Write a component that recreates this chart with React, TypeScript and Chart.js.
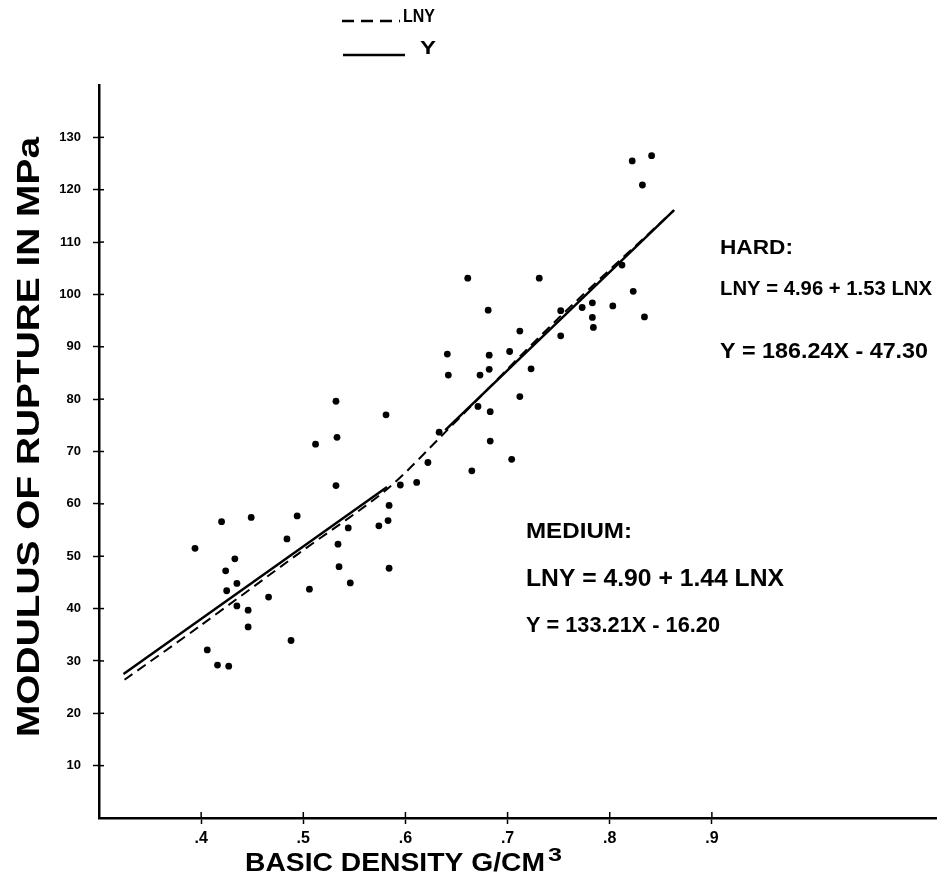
import React, { useEffect, useRef } from 'react';
import { Chart, registerables } from 'chart.js';

Chart.register(...registerables);

// ---- data ----
const xTickValues = [0.4, 0.5, 0.6, 0.7, 0.8, 0.9];
const xTickLabels = ['.4', '.5', '.6', '.7', '.8', '.9'];
const yTickValues = [10, 20, 30, 40, 50, 60, 70, 80, 90, 100, 110, 120, 130];

const density = [
  0.420, 0.449, 0.394, 0.484, 0.433, 0.424, 0.435, 0.425, 0.466, 0.435,
  0.446, 0.446, 0.488, 0.406, 0.416, 0.427, 0.506, 0.534, 0.535, 0.546,
  0.544, 0.574, 0.583, 0.584, 0.584, 0.532, 0.581, 0.533, 0.512, 0.532,
  0.494, 0.595, 0.611, 0.622, 0.661, 0.681, 0.712, 0.641, 0.682, 0.702,
  0.642, 0.673, 0.682, 0.712, 0.683, 0.671, 0.683, 0.704, 0.665, 0.633,
  0.731, 0.812, 0.823, 0.834, 0.803, 0.783, 0.773, 0.783, 0.784, 0.752,
  0.752, 0.723, 0.822, 0.832, 0.841,
];
const rupture = [
  56.6, 57.4, 51.5, 53.3, 49.5, 47.2, 44.8, 43.4, 42.2, 40.5,
  39.7, 36.5, 33.9, 32.1, 29.2, 29.0, 43.7, 52.3, 48.0, 44.9,
  55.4, 55.8, 56.8, 59.7, 47.7, 79.6, 77.0, 72.7, 71.4, 63.5,
  57.7, 63.6, 64.1, 67.9, 103.1, 97.0, 93.0, 88.6, 88.4, 89.1,
  84.6, 84.6, 85.7, 80.5, 77.6, 78.6, 72.0, 68.5, 66.3, 73.7,
  103.1, 105.6, 100.6, 95.7, 97.8, 98.4, 97.5, 95.6, 93.7, 96.9,
  92.1, 85.8, 125.5, 120.9, 126.5,
];

const yMediumX = [0.324, 0.582];
const yMediumY = [27.5, 63.2];
const yHardX = [0.639, 0.863];
const yHardY = [74.1, 116.1];
const lnyX = [0.325, 0.399, 0.496, 0.582, 0.639, 0.750, 0.863];
const lnyY = [26.4, 36.7, 50.6, 62.8, 73.7, 95.5, 116.1];

const FONT = '"Liberation Sans", Arial, sans-serif';

function fitText(ctx: CanvasRenderingContext2D, text: string, x: number, cy: number, w: number, size: number) {
  ctx.save();
  ctx.font = `bold ${size}px ${FONT}`;
  ctx.textBaseline = 'middle';
  ctx.textAlign = 'left';
  const m = ctx.measureText(text).width;
  ctx.translate(x, cy);
  ctx.scale(w / m, 1);
  ctx.fillStyle = '#000';
  ctx.fillText(text, 0, 0);
  ctx.restore();
}

const decorPlugin = {
  id: 'decor',
  afterDraw(chart: any) {
    const ctx: CanvasRenderingContext2D = chart.ctx;
    const xs = chart.scales.x;
    const ys = chart.scales.y;
    const { left, bottom } = chart.chartArea;
    ctx.save();
    ctx.strokeStyle = '#000';
    ctx.lineWidth = 1.5;
    // inner halves of the crossing tick marks
    yTickValues.forEach((v) => {
      const py = ys.getPixelForValue(v);
      ctx.beginPath();
      ctx.moveTo(left, py);
      ctx.lineTo(left + 5, py);
      ctx.stroke();
    });
    xTickValues.forEach((v) => {
      const px = xs.getPixelForValue(v);
      ctx.beginPath();
      ctx.moveTo(px, bottom);
      ctx.lineTo(px, bottom - 6);
      ctx.stroke();
    });

    // legend
    ctx.lineWidth = 2.5;
    ctx.setLineDash([12, 7]);
    ctx.beginPath();
    ctx.moveTo(342, 21);
    ctx.lineTo(400, 21);
    ctx.stroke();
    ctx.setLineDash([]);
    ctx.beginPath();
    ctx.moveTo(343, 55);
    ctx.lineTo(405, 55);
    ctx.stroke();
    ctx.restore();
    fitText(ctx, 'LNY', 403, 17, 32, 19);
    fitText(ctx, 'Y', 420, 49, 16, 19);

    // annotations
    fitText(ctx, 'HARD:', 720, 248, 73, 20);
    fitText(ctx, 'LNY = 4.96 + 1.53 LNX', 720, 289, 212, 21);
    fitText(ctx, 'Y = 186.24X - 47.30', 720, 352, 208, 22);
    fitText(ctx, 'MEDIUM:', 526, 532, 106, 22);
    fitText(ctx, 'LNY = 4.90 + 1.44 LNX', 526, 580, 258, 23);
    fitText(ctx, 'Y = 133.21X - 16.20', 526, 626, 194, 22);

    // axis titles
    ctx.save();
    ctx.font = `bold 32px ${FONT}`;
    ctx.textBaseline = 'middle';
    ctx.textAlign = 'center';
    const t = 'MODULUS OF RUPTURE IN MPa';
    const m = ctx.measureText(t).width;
    ctx.translate(30, 437);
    ctx.rotate(-Math.PI / 2);
    ctx.scale(600 / m, 1);
    ctx.fillStyle = '#000';
    ctx.fillText(t, 0, 0);
    ctx.restore();

    fitText(ctx, 'BASIC DENSITY G/CM', 245, 864, 300, 26);
    fitText(ctx, '3', 548, 856, 14, 18);
  },
};

export default function App() {
  const ref = useRef<HTMLCanvasElement>(null);
  useEffect(() => {
    if (!ref.current) return;
    const chart = new Chart(ref.current, {
      type: 'scatter',
      data: {
        datasets: [
          {
            label: 'points',
            data: density.map((x, i) => ({ x, y: rupture[i] })),
            pointRadius: 3.4,
            pointHoverRadius: 3.4,
            pointBackgroundColor: '#000',
            pointBorderColor: '#000',
            borderWidth: 0,
            showLine: false,
          },
          {
            label: 'Y medium',
            data: yMediumX.map((x, i) => ({ x, y: yMediumY[i] })),
            showLine: true,
            borderColor: '#000',
            borderWidth: 2.5,
            pointRadius: 0,
          },
          {
            label: 'Y hard',
            data: yHardX.map((x, i) => ({ x, y: yHardY[i] })),
            showLine: true,
            borderColor: '#000',
            borderWidth: 2.5,
            pointRadius: 0,
          },
          {
            label: 'LNY',
            data: lnyX.map((x, i) => ({ x, y: lnyY[i] })),
            showLine: true,
            borderColor: '#000',
            borderWidth: 2,
            borderDash: [10, 6],
            pointRadius: 0,
            tension: 0.3,
          },
        ],
      },
      options: {
        animation: false,
        responsive: false,
        maintainAspectRatio: false,
        layout: { padding: { top: 85, left: 0, right: 0, bottom: 0 } },
        plugins: {
          legend: { display: false },
          tooltip: { enabled: false },
          title: { display: false },
        },
        scales: {
          x: {
            type: 'linear',
            min: 0.3,
            max: 1.12,
            afterBuildTicks: (axis: any) => {
              axis.ticks = xTickValues.map((v) => ({ value: v }));
            },
            afterFit: (axis: any) => {
              axis.height = 60;
            },
            ticks: {
              color: '#000',
              padding: 5,
              font: { family: FONT, size: 16, weight: 'bold' },
              callback: (v: any) => {
                const i = xTickValues.findIndex((t) => Math.abs(t - Number(v)) < 1e-6);
                return i >= 0 ? xTickLabels[i] : '';
              },
              maxRotation: 0,
              autoSkip: false,
            },
            grid: {
              display: true,
              drawOnChartArea: false,
              drawTicks: true,
              tickLength: 6,
              tickColor: '#000',
              tickWidth: 1.5,
            },
            border: { display: true, color: '#000', width: 2.5 },
          },
          y: {
            type: 'linear',
            min: 0,
            max: 140,
            afterBuildTicks: (axis: any) => {
              axis.ticks = yTickValues.map((v) => ({ value: v }));
            },
            afterFit: (axis: any) => {
              axis.width = 99;
            },
            ticks: {
              color: '#000',
              padding: 12,
              font: { family: FONT, size: 13, weight: 'bold' },
              callback: (v: any) => String(v),
              autoSkip: false,
            },
            grid: {
              display: true,
              drawOnChartArea: false,
              drawTicks: true,
              tickLength: 6,
              tickColor: '#000',
              tickWidth: 1.5,
            },
            border: { display: true, color: '#000', width: 2.5 },
          },
        },
      },
      plugins: [decorPlugin],
    });
    return () => chart.destroy();
  }, []);

  return (
    <div style={{ position: 'fixed', left: 0, top: 0, width: 940, height: 878, background: '#fff' }}>
      <canvas ref={ref} width={940} height={878} style={{ display: 'block', width: 940, height: 878 }} />
    </div>
  );
}
